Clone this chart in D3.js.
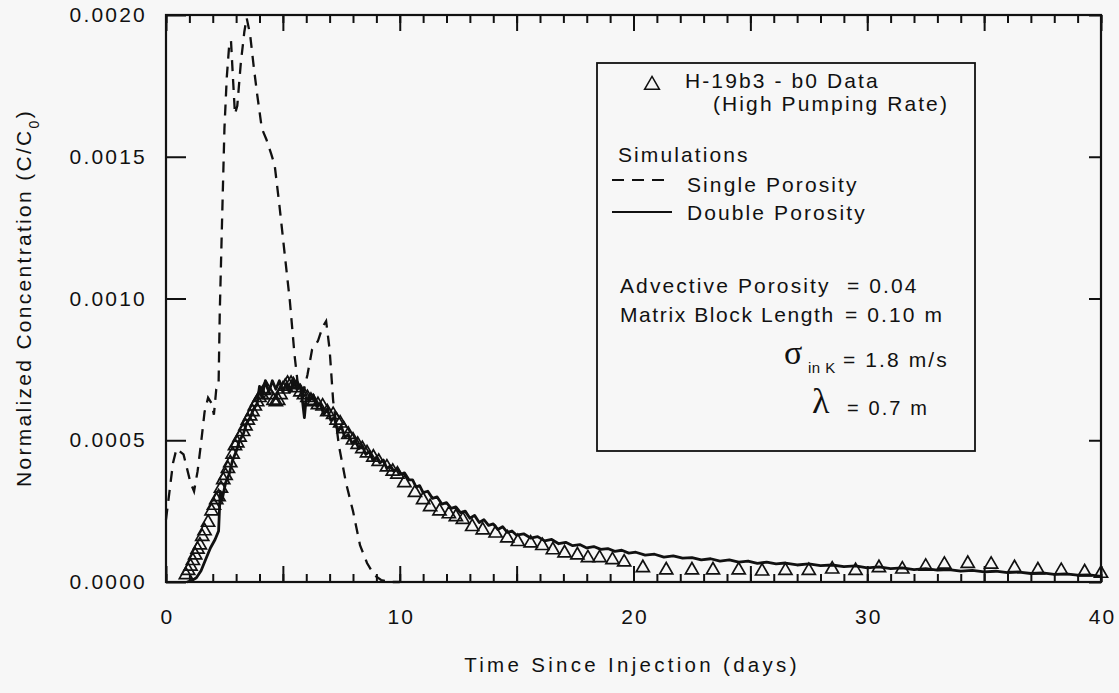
<!DOCTYPE html>
<html>
<head>
<meta charset="utf-8">
<script src="https://cdn.jsdelivr.net/npm/d3@7"></script>
<style>
  body { margin: 0; background: #f7f7f7; }
  svg text { font-family: "Liberation Sans", Arial, sans-serif; fill: #111; letter-spacing: 2.1px; }
</style>
</head>
<body>
<svg id="chart" width="1119" height="693"></svg>
<script>
// concentrations below are in units of 1e-4 (C/C0)
const dataT = [0.85, 0.95, 1.05, 1.15, 1.25, 1.35, 1.45, 1.55, 1.65, 1.8, 1.95, 2.05, 2.15, 2.25, 2.35, 2.45, 2.55, 2.65, 2.75, 2.85, 2.95, 3.05, 3.15, 3.3, 3.4, 3.5, 3.6, 3.7, 3.8, 3.9, 4.0, 4.1, 4.2, 4.3, 4.45, 4.6, 4.7, 4.8, 4.9, 5.0, 5.1, 5.2, 5.35, 5.45, 5.6, 5.75, 5.9, 6.05, 6.2, 6.3, 6.5, 6.7, 6.9, 7.15, 7.3, 7.45, 7.6, 7.8, 8.0, 8.2, 8.4, 8.6, 8.87, 9.1, 9.45, 9.7, 9.9, 10.2, 10.65, 11.0, 11.3, 11.7, 12.1, 12.4, 12.7, 13.1, 13.55, 14.1, 14.6, 15.05, 15.6, 16.1, 16.55, 17.05, 17.6, 18.05, 18.55, 19.1, 19.6, 20.4, 21.4, 22.5, 23.4, 24.5, 25.5, 26.5, 27.5, 28.5, 29.5, 30.5, 31.5, 32.5, 33.3, 34.3, 35.3, 36.3, 37.3, 38.3, 39.3, 40];
const dataC = [0.25, 0.4, 0.55, 0.75, 0.95, 1.15, 1.3, 1.6, 1.8, 2.1, 2.5, 2.7, 2.9, 3.0, 3.3, 3.6, 3.75, 4.0, 4.2, 4.5, 4.8, 4.9, 5.1, 5.3, 5.5, 5.7, 5.85, 6.0, 6.2, 6.35, 6.5, 6.6, 6.75, 6.8, 6.6, 6.4, 6.35, 6.4, 6.6, 6.8, 6.9, 7.0, 7.0, 6.95, 6.85, 6.7, 6.6, 6.5, 6.4, 6.35, 6.25, 6.2, 6.0, 5.9, 5.7, 5.6, 5.4, 5.2, 5.0, 4.85, 4.7, 4.55, 4.4, 4.25, 4.05, 3.9, 3.8, 3.5, 3.15, 2.9, 2.65, 2.5, 2.4, 2.3, 2.2, 1.95, 1.83, 1.72, 1.55, 1.42, 1.37, 1.28, 1.13, 1.02, 0.95, 0.85, 0.85, 0.78, 0.7, 0.5, 0.42, 0.42, 0.42, 0.42, 0.38, 0.4, 0.4, 0.45, 0.4, 0.5, 0.45, 0.55, 0.62, 0.65, 0.62, 0.5, 0.42, 0.4, 0.35, 0.3];

const singleT = [0.0, 0.15, 0.3, 0.45, 0.6, 0.75, 0.9, 1.05, 1.2, 1.35, 1.5, 1.65, 1.8, 1.95, 2.05, 2.15, 2.25, 2.3, 2.4, 2.5, 2.6, 2.7, 2.78, 2.85, 2.95, 3.05, 3.2, 3.35, 3.45, 3.6, 3.75, 3.9, 4.1, 4.3, 4.5, 4.65, 4.85, 5.1, 5.3, 5.5, 5.65, 5.85, 6.05, 6.25, 6.5, 6.7, 6.85, 7.0, 7.15, 7.4, 7.7, 8.0, 8.3, 8.6, 8.9, 9.2, 9.6, 10.0];
const singleC = [2.2, 3.2, 4.2, 4.7, 4.6, 4.5, 4.0, 3.5, 3.2, 3.9, 4.9, 6.0, 6.5, 6.3, 5.9, 6.8, 7.0, 9.5, 12.8, 16.0, 17.8, 18.9, 19.1, 18.0, 16.5, 16.8, 18.3, 19.4, 19.9, 19.3, 18.2, 17.2, 16.0, 15.6, 15.1, 14.7, 13.3, 11.4, 9.9, 8.0, 6.9, 6.6, 7.3, 8.2, 8.5, 9.0, 9.2, 8.2, 6.4, 4.8, 3.5, 2.5, 1.3, 0.67, 0.25, 0.07, 0.0, 0.0];

const doubleT = [0.9, 1.1, 1.3, 1.5, 1.7, 1.9, 2.1, 2.25, 2.32, 2.4, 2.55, 2.7, 2.85, 3.0, 3.15, 3.3, 3.45, 3.6, 3.75, 3.9, 4.0, 4.1, 4.25, 4.4, 4.55, 4.7, 4.85, 5.0, 5.15, 5.3, 5.45, 5.6, 5.75, 5.85, 5.92, 6.0, 6.15, 6.3, 6.45, 6.6, 6.75, 6.9, 7.05, 7.2, 7.35, 7.5, 7.65, 7.8, 7.95, 8.1, 8.25, 8.4, 8.55, 8.7, 8.85, 9.0, 9.15, 9.3, 9.45, 9.6, 9.75, 9.9, 10.05, 10.2, 10.4, 10.55, 10.7, 10.85, 11.0, 11.2, 11.4, 11.6, 11.8, 12.0, 12.2, 12.4, 12.6, 12.8, 13.0, 13.2, 13.4, 13.6, 13.8, 14.0, 14.2, 14.4, 14.6, 14.8, 15.0, 15.3, 15.6, 15.9, 16.2, 16.5, 16.8, 17.1, 17.4, 17.7, 18.0, 18.3, 18.6, 18.9, 19.2, 19.5, 19.8, 20.1, 20.5, 20.9, 21.3, 21.7, 22.1, 22.5, 22.9, 23.3, 23.7, 24.1, 24.5, 24.9, 25.3, 25.7, 26.1, 26.5, 27.0, 27.5, 28.0, 28.5, 29.0, 29.5, 30.0, 30.5, 31.0, 31.5, 32.0, 32.5, 33.0, 33.5, 34.0, 34.5, 35.0, 35.5, 36.0, 36.5, 37.0, 37.5, 38.0, 38.5, 39.0, 39.5, 40.0];
const doubleC = [0.0, 0.05, 0.15, 0.4, 0.8, 1.2, 1.5, 1.8, 3.2, 2.9, 3.5, 3.8, 4.3, 4.6, 5.0, 5.2, 5.6, 5.8, 6.1, 6.3, 6.9, 6.5, 7.1, 6.7, 7.1, 6.8, 7.1, 6.7, 7.0, 6.7, 7.1, 6.8, 6.9, 6.3, 5.8, 6.5, 6.4, 6.6, 6.2, 6.3, 5.9, 6.1, 5.7, 5.8, 5.3, 5.5, 5.1, 5.2, 4.9, 5.0, 4.7, 4.8, 4.5, 4.6, 4.3, 4.4, 4.2, 4.3, 4.0, 4.1, 3.9, 4.0, 3.8, 3.85, 3.6, 3.6, 3.35, 3.4, 3.15, 3.2, 2.95, 3.0, 2.75, 2.8, 2.6, 2.65, 2.45, 2.5, 2.25, 2.35, 2.1, 2.2, 2.0, 2.05, 1.85, 1.95, 1.75, 1.8, 1.65, 1.7, 1.55, 1.6, 1.45, 1.5, 1.35, 1.4, 1.28, 1.32, 1.2, 1.25, 1.15, 1.18, 1.08, 1.12, 1.02, 1.05, 0.95, 0.98, 0.88, 0.92, 0.84, 0.86, 0.78, 0.82, 0.74, 0.78, 0.7, 0.74, 0.66, 0.7, 0.64, 0.67, 0.6, 0.64, 0.58, 0.6, 0.54, 0.57, 0.5, 0.53, 0.47, 0.5, 0.44, 0.47, 0.42, 0.44, 0.38, 0.41, 0.36, 0.38, 0.33, 0.35, 0.3, 0.32, 0.27, 0.29, 0.24, 0.25, 0.2];

const xMajor = [0, 5, 10, 15, 20, 25, 30, 35, 40];
const xLabelled = [0, 10, 20, 30, 40];
const yTicks = [0, 0.0005, 0.0010, 0.0015, 0.0020];

const svg = d3.select('#chart');
const ink = '#111';
const frame = { left: 166, right: 1101, top: 15, bottom: 582 };

const x = d3.scaleLinear().domain([0, 40]).range([frame.left, frame.right]);
const y = d3.scaleLinear().domain([0, 0.002]).range([frame.bottom, frame.top]);
const unit = 1e-4;

function styleAxis(g) {
    g.select('.domain').remove();
    g.selectAll('line').attr('stroke', ink).attr('stroke-width', 2);
    g.selectAll('text').style('font-size', '21px').style('letter-spacing', '2.2px').attr('fill', ink);
}

// x axis, bottom: minor + major ticks pointing inward
svg.append('g')
    .attr('transform', `translate(0,${frame.bottom})`)
    .call(d3.axisBottom(x).tickValues(d3.range(0, 41)).tickSize(-8).tickFormat(''))
    .call(styleAxis);
svg.append('g')
    .attr('transform', `translate(0,${frame.bottom})`)
    .call(d3.axisBottom(x).tickValues(xMajor).tickSize(-16).tickPadding(27)
        .tickFormat(d => xLabelled.includes(d) ? d : ''))
    .call(styleAxis)
    .selectAll('text').attr('dx', '1px');

// x axis, top
svg.append('g')
    .attr('transform', `translate(0,${frame.top})`)
    .call(d3.axisTop(x).tickValues(d3.range(0, 41)).tickSize(-8).tickFormat(''))
    .call(styleAxis);
svg.append('g')
    .attr('transform', `translate(0,${frame.top})`)
    .call(d3.axisTop(x).tickValues(xMajor).tickSize(-16).tickFormat(''))
    .call(styleAxis);

// y axis left and right
svg.append('g')
    .attr('transform', `translate(${frame.left},0)`)
    .call(d3.axisLeft(y).tickValues(yTicks).tickSize(-20).tickPadding(19).tickFormat(d3.format('.4f')))
    .call(styleAxis);
svg.append('g')
    .attr('transform', `translate(${frame.right},0)`)
    .call(d3.axisRight(y).tickValues(yTicks).tickSize(-12).tickFormat(''))
    .call(styleAxis);

// frame
svg.append('rect')
    .attr('x', frame.left).attr('y', frame.top)
    .attr('width', frame.right - frame.left).attr('height', frame.bottom - frame.top)
    .attr('fill', 'none').attr('stroke', ink).attr('stroke-width', 2.2);

// axis titles
svg.append('text')
    .attr('x', 632).attr('y', 672)
    .attr('text-anchor', 'middle')
    .style('font-size', '20.5px').style('letter-spacing', '3.3px')
    .text('Time Since Injection (days)');

const yTitle = svg.append('text')
    .attr('transform', 'translate(31,298) rotate(-90)')
    .attr('text-anchor', 'middle')
    .style('font-size', '21px').style('letter-spacing', '2.3px');
yTitle.append('tspan').text('Normalized Concentration (C/C');
yTitle.append('tspan').attr('baseline-shift', 'sub').style('font-size', '14px').text('0');
yTitle.append('tspan').text(')');

// curves
const line = d3.line().x(d => x(d[0])).y(d => y(d[1] * unit));

svg.append('path')
    .datum(singleT.map((t, i) => [t, singleC[i]]))
    .attr('d', line)
    .attr('fill', 'none').attr('stroke', ink).attr('stroke-width', 2.3)
    .attr('stroke-dasharray', '11,8');

svg.append('path')
    .datum(doubleT.map((t, i) => [t, doubleC[i]]))
    .attr('d', line)
    .attr('fill', 'none').attr('stroke', ink).attr('stroke-width', 2.8)
    .attr('stroke-linejoin', 'round');

const tri = d3.symbol().type(d3.symbolTriangle).size(74);
svg.append('g').selectAll('path')
    .data(dataT.map((t, i) => [t, dataC[i]]))
    .join('path')
    .attr('transform', d => `translate(${x(d[0])},${y(d[1] * unit)})`)
    .attr('d', tri)
    .attr('fill', 'none').attr('stroke', ink).attr('stroke-width', 1.7);

// legend box
const lg = svg.append('g');
lg.append('rect')
    .attr('x', 597).attr('y', 63).attr('width', 378).attr('height', 388)
    .attr('fill', '#f7f7f7').attr('stroke', ink).attr('stroke-width', 1.8);

lg.append('path')
    .attr('transform', 'translate(652,85)')
    .attr('d', d3.symbol().type(d3.symbolTriangle).size(95))
    .attr('fill', 'none').attr('stroke', ink).attr('stroke-width', 1.5);

const legendText = (tx, ty, s, size = 21) => lg.append('text')
    .attr('x', tx).attr('y', ty).style('font-size', size + 'px').text(s);

legendText(685, 88, 'H-19b3 - b0 Data');
legendText(713, 111, '(High Pumping Rate)');
legendText(618, 162, 'Simulations');
legendText(687, 192, 'Single Porosity');
legendText(687, 220, 'Double Porosity');

lg.append('line').attr('x1', 612).attr('x2', 672).attr('y1', 180).attr('y2', 180)
    .attr('stroke', ink).attr('stroke-width', 2).attr('stroke-dasharray', '12,8');
lg.append('line').attr('x1', 612).attr('x2', 672).attr('y1', 212).attr('y2', 212)
    .attr('stroke', ink).attr('stroke-width', 2.2);

legendText(620, 293, 'Advective Porosity');
legendText(847, 293, '= 0.04');
legendText(620, 322, 'Matrix Block Length').style('letter-spacing', '1.6px');
legendText(845, 322, '= 0.10 m');

lg.append('text').attr('x', 784).attr('y', 364)
    .style('font-family', '"Liberation Serif", "DejaVu Serif", serif')
    .style('font-size', '34px').style('letter-spacing', '0px').text('σ');
legendText(808, 373, 'in K', 15).style('letter-spacing', '0.5px');
legendText(843, 367, '= 1.8 m/s');

lg.append('text').attr('x', 812).attr('y', 413)
    .style('font-family', '"Liberation Serif", "DejaVu Serif", serif')
    .style('font-size', '36px').style('letter-spacing', '0px').text('λ');
legendText(847, 415, '= 0.7 m', 20);
</script>
</body>
</html>
